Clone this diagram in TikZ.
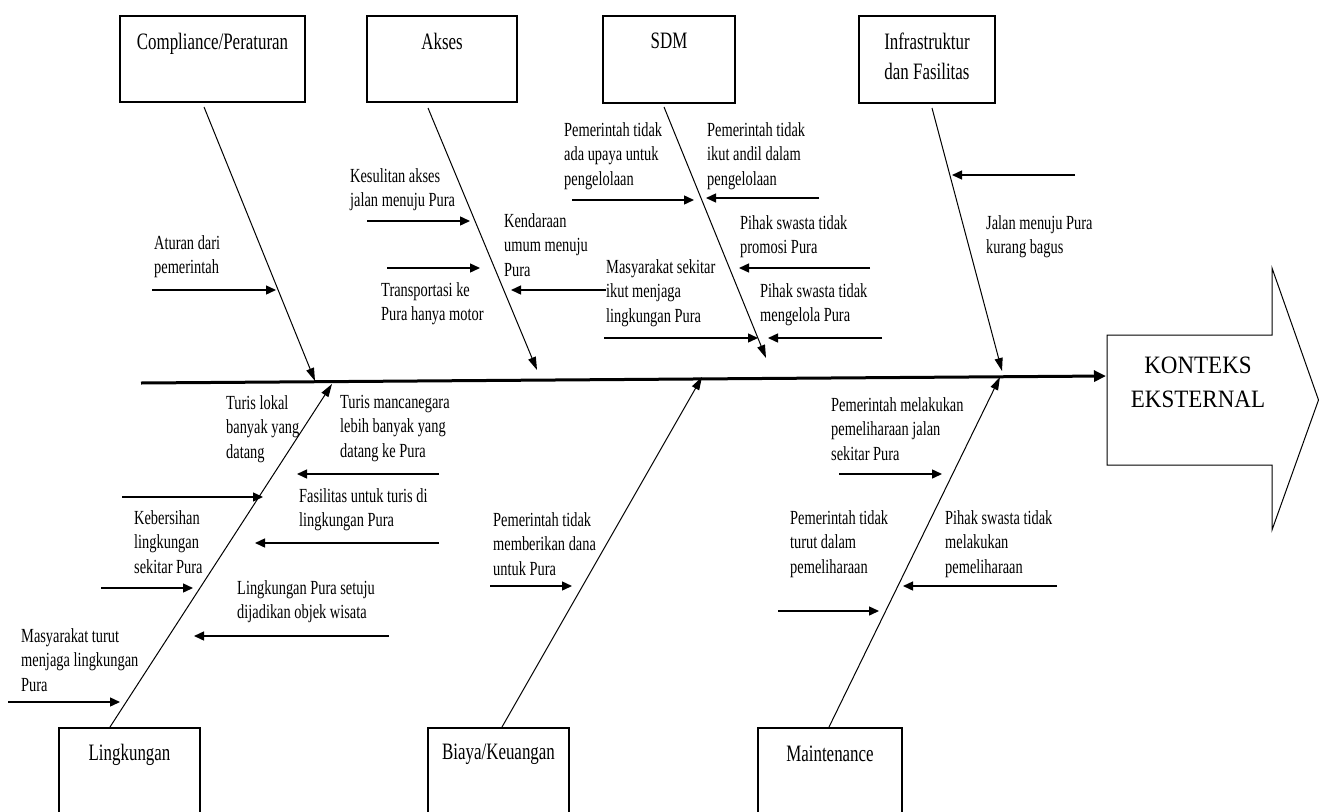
\documentclass[tikz,border=0pt]{standalone}
\usepackage{fontspec}
\setmainfont{Liberation Serif}[FakeStretch=0.72]
\newfontfamily\konfont{Liberation Serif}[FakeStretch=0.92]
\usetikzlibrary{arrows.meta}
\begin{document}
\begin{tikzpicture}[x=1pt,y=-1pt,
  box/.style={draw, line width=1.4pt, anchor=north west, inner sep=0pt, outer sep=0pt},
  ttl/.style={anchor=north, inner sep=0pt, align=center, font=\fontsize{23.5}{30}\selectfont},
  lbl/.style={anchor=north west, inner sep=0pt, align=left, font=\fontsize{20}{24.5}\selectfont},
  bone/.style={line width=1pt, -{Triangle[length=13pt,width=8pt]}},
  br/.style={line width=1.4pt, -{Triangle[length=10pt,width=9pt]}},
  spine/.style={line width=3pt, -{Triangle[length=12pt,width=11pt]}},
]
\useasboundingbox (0,0) rectangle (1319,811);
\clip (0,0) rectangle (1319,811);

% ---- category boxes ----
\node[box, minimum width=185pt, minimum height=86pt] (comp) at (120,16) {};
\node[box, minimum width=150pt, minimum height=86pt] (akses) at (367,16) {};
\node[box, minimum width=132pt, minimum height=87pt] (sdm) at (603,16) {};
\node[box, minimum width=136pt, minimum height=87pt] (infra) at (859,16) {};
\node[box, minimum width=141pt, minimum height=110pt] (ling) at (59,728) {};
\node[box, minimum width=141pt, minimum height=110pt] (biaya) at (428,728) {};
\node[box, minimum width=144pt, minimum height=110pt] (maint) at (758,728) {};

\node[ttl] (compT) at (212.5,33) {Compliance/Peraturan};
\node[ttl] (aksesT) at (442,33) {Akses};
\node[ttl] (sdmT) at (669,33) {SDM};
\node[ttl] (infraT) at (927,33) {Infrastruktur\\dan Fasilitas};
\node[ttl] (lingT) at (129.5,744) {Lingkungan};
\node[ttl] (biayaT) at (498.5,744) {Biaya/Keuangan};
\node[ttl] (maintT) at (830,746) {Maintenance};

% ---- effect arrow ----
\draw[line width=1pt] (1107,335) -- (1272,335) -- (1272,268) -- (1318.5,400)
  -- (1272,530) -- (1272,465) -- (1107,465) -- cycle;
\node[anchor=north, inner sep=0pt, align=center,
  font=\konfont\fontsize{25}{34}\selectfont] (kon) at (1198,357) {KONTEKS\\EKSTERNAL};

% ---- spine ----
\coordinate (sp0) at (141,383);
\coordinate (sp1) at (1106,376);
\draw[spine] (sp0) -- (sp1);

% ---- bones ----
\coordinate (compB) at (204,107);  \coordinate (compE) at (315,381);
\coordinate (aksesB) at (428,108); \coordinate (aksesE) at (537,370);
\coordinate (sdmB) at (664,107);   \coordinate (sdmE) at (766,358);
\coordinate (infraB) at (932,108); \coordinate (infraE) at (1002,371);
\coordinate (lingB) at (110,727);  \coordinate (lingE) at (332,384);
\coordinate (biayaB) at (502,727); \coordinate (biayaE) at (702,377);
\coordinate (maintB) at (829,727); \coordinate (maintE) at (1000,377);
\draw[bone] (compB) -- (compE);
\draw[bone] (aksesB) -- (aksesE);
\draw[bone] (sdmB) -- (sdmE);
\draw[bone] (infraB) -- (infraE);
\draw[bone] (lingB) -- (lingE);
\draw[bone] (biayaB) -- (biayaE);
\draw[bone] (maintB) -- (maintE);

% ---- labels ----
\node[lbl] (t1) at (154,235) {Aturan dari\\pemerintah};
\node[lbl] (t2) at (350,168) {Kesulitan akses\\jalan menuju Pura};
\node[lbl] (t3) at (504,213) {Kendaraan\\umum menuju\\Pura};
\node[lbl] (t4) at (381,282) {Transportasi ke\\Pura hanya motor};
\node[lbl] (t5) at (564,122) {Pemerintah tidak\\ada upaya untuk\\pengelolaan};
\node[lbl] (t6) at (707,122) {Pemerintah tidak\\ikut andil dalam\\pengelolaan};
\node[lbl] (t7) at (740,215) {Pihak swasta tidak\\promosi Pura};
\node[lbl] (t8) at (606,259) {Masyarakat sekitar\\ikut menjaga\\lingkungan Pura};
\node[lbl] (t9) at (760,283) {Pihak swasta tidak\\mengelola Pura};
\node[lbl] (t10) at (986,215) {Jalan menuju Pura\\kurang bagus};
\node[lbl] (t11) at (226,395) {Turis lokal\\banyak yang\\datang};
\node[lbl] (t12) at (340,395) {Turis mancanegara\\lebih banyak yang\\datang ke Pura};
\node[lbl] (t13) at (299,488) {Fasilitas untuk turis di\\lingkungan Pura};
\node[lbl] (t14) at (134,510) {Kebersihan\\lingkungan\\sekitar Pura};
\node[lbl] (t15) at (237,580) {Lingkungan Pura setuju\\dijadikan objek wisata};
\node[lbl] (t16) at (21,628) {Masyarakat turut\\menjaga lingkungan\\Pura};
\node[lbl] (t17) at (493,512) {Pemerintah tidak\\memberikan dana\\untuk Pura};
\node[lbl] (t18) at (831,397) {Pemerintah melakukan\\pemeliharaan jalan\\sekitar Pura};
\node[lbl] (t19) at (790,510) {Pemerintah tidak\\turut dalam\\pemeliharaan};
\node[lbl] (t20) at (945,510) {Pihak swasta tidak\\melakukan\\pemeliharaan};

% ---- cause arrows ----
\coordinate (a1s) at (152,290);  \coordinate (a1e) at (276,290);
\coordinate (a2s) at (367,221);  \coordinate (a2e) at (470,221);
\coordinate (a3s) at (387,268);  \coordinate (a3e) at (480,268);
\coordinate (a4s) at (606,290);  \coordinate (a4e) at (511,290);
\coordinate (s1s) at (572,200);  \coordinate (s1e) at (694,200);
\coordinate (s2s) at (819,198);  \coordinate (s2e) at (706,198);
\coordinate (s3s) at (870,268);  \coordinate (s3e) at (739,268);
\coordinate (s4s) at (604,338);  \coordinate (s4e) at (758,338);
\coordinate (s5s) at (882,338);  \coordinate (s5e) at (768,338);
\coordinate (i1s) at (1075,175); \coordinate (i1e) at (952,175);
\coordinate (l1s) at (439,474);  \coordinate (l1e) at (297,474);
\coordinate (l2s) at (122,497);  \coordinate (l2e) at (263,497);
\coordinate (l3s) at (439,543);  \coordinate (l3e) at (255,543);
\coordinate (l4s) at (101,588);  \coordinate (l4e) at (193,588);
\coordinate (l5s) at (389,636);  \coordinate (l5e) at (194,636);
\coordinate (l6s) at (8,702);    \coordinate (l6e) at (120,702);
\coordinate (b1s) at (490,586);  \coordinate (b1e) at (572,586);
\coordinate (m1s) at (839,474);  \coordinate (m1e) at (942,474);
\coordinate (m2s) at (778,611);  \coordinate (m2e) at (879,611);
\coordinate (m3s) at (1057,586); \coordinate (m3e) at (903,586);
\foreach \a in {a1,a2,a3,a4,s1,s2,s3,s4,s5,i1,l1,l2,l3,l4,l5,l6,b1,m1,m2,m3}
  \draw[br] (\a s) -- (\a e);
\end{tikzpicture}
\end{document}
